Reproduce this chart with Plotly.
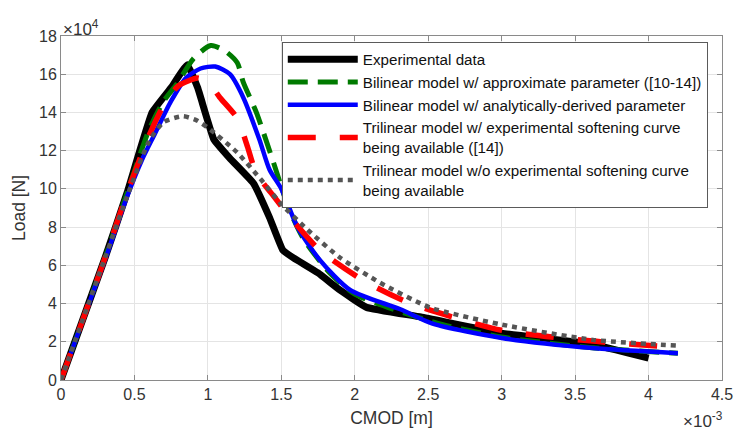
import plotly.graph_objects as go

# CMOD in units of 1e-3 m, Load in units of 1e4 N
exp_x = [0, 0.3, 0.45, 0.62, 0.75, 0.86, 0.93, 1.04, 1.15, 1.31, 1.42, 1.51, 1.58, 1.75, 1.9, 2.08, 2.45, 3.0, 3.6, 4.0]
exp_y = [0, 6.4, 9.8, 14.0, 15.3, 16.5, 15.3, 12.6, 11.6, 10.3, 8.5, 6.8, 6.4, 5.6, 4.7, 3.8, 3.3, 2.45, 1.9, 1.15]

bl_apx_x = [0, 0.3, 0.45, 0.6, 0.7, 0.79, 0.9, 1.02, 1.12, 1.2, 1.24, 1.33, 1.45, 1.55, 1.65, 1.83, 2.0, 2.3, 2.6, 3.0, 3.6, 4.2]
bl_apx_y = [0, 6.4, 9.8, 13.1, 14.6, 15.5, 16.8, 17.5, 17.2, 16.6, 15.6, 14.0, 11.3, 9.0, 7.4, 5.6, 4.5, 3.6, 2.9, 2.25, 1.7, 1.4]

bl_ana_x = [0, 0.3, 0.45, 0.55, 0.64, 0.75, 0.85, 0.95, 1.05, 1.15, 1.24, 1.35, 1.42, 1.5, 1.61, 1.76, 1.97, 2.31, 2.53, 3.0, 3.62, 4.2]
bl_ana_y = [0, 6.3, 9.6, 11.5, 12.9, 14.6, 15.8, 16.3, 16.4, 16.0, 14.8, 12.6, 11.0, 10.0, 8.0, 6.3, 4.7, 3.7, 2.95, 2.2, 1.67, 1.4]

tl_exp_x = [0, 0.3, 0.45, 0.6, 0.7, 0.8, 0.93, 1.0, 1.08, 1.2, 1.27, 1.33, 1.45, 1.54, 1.76, 2.06, 2.38, 3.0, 3.6, 4.2]
tl_exp_y = [0, 6.4, 9.8, 12.8, 14.4, 15.4, 15.8, 15.6, 14.8, 13.7, 12.2, 10.8, 9.6, 8.7, 6.8, 5.2, 4.0, 2.6, 2.05, 1.7]

tl_noexp_x = [0, 0.3, 0.45, 0.6, 0.7, 0.83, 0.92, 1.0, 1.2, 1.36, 1.5, 1.68, 1.9, 2.17, 2.51, 3.0, 3.62, 4.2]
tl_noexp_y = [0, 6.4, 9.6, 12.5, 13.5, 13.8, 13.6, 13.2, 11.9, 10.5, 9.2, 7.85, 6.4, 5.1, 3.8, 2.9, 2.1, 1.8]

names = [
    "Experimental data",
    "Bilinear model w/ approximate parameter ([10-14])",
    "Bilinear model w/ analytically-derived parameter",
    "Trilinear model w/ experimental softening curve<br>being available ([14])",
    "Trilinear model w/o experimental softening curve<br>being available",
]

x_ticks = [0, 0.5, 1, 1.5, 2, 2.5, 3, 3.5, 4, 4.5]
x_labels = ["0", "0.5", "1", "1.5", "2", "2.5", "3", "3.5", "4", "4.5"]
y_ticks = [0, 2, 4, 6, 8, 10, 12, 14, 16, 18]
y_labels = ["0", "2", "4", "6", "8", "10", "12", "14", "16", "18"]

fig = go.Figure()
fig.add_trace(go.Scatter(x=exp_x, y=exp_y, mode="lines", name=names[0],
                         line=dict(color="#000000", width=7, shape="spline", smoothing=0.3)))
fig.add_trace(go.Scatter(x=bl_apx_x, y=bl_apx_y, mode="lines", name=names[1],
                         line=dict(color="#007a00", width=5, dash="20px,10px", shape="spline", smoothing=0.7)))
fig.add_trace(go.Scatter(x=bl_ana_x, y=bl_ana_y, mode="lines", name=names[2],
                         line=dict(color="#0000ff", width=4.5, shape="spline", smoothing=0.7)))
fig.add_trace(go.Scatter(x=tl_exp_x, y=tl_exp_y, mode="lines", name=names[3],
                         line=dict(color="#ff0000", width=5.5, dash="28px,24px", shape="spline", smoothing=0.6)))
fig.add_trace(go.Scatter(x=tl_noexp_x, y=tl_noexp_y, mode="lines", name=names[4],
                         line=dict(color="#555555", width=4.5, dash="5px,5px", shape="spline", smoothing=0.6)))

font_fam = "Liberation Sans, Arial, sans-serif"
axcol = "#8a8a8a"
fig.update_layout(
    width=734, height=431,
    margin=dict(l=61, r=12, t=36, b=51),
    paper_bgcolor="white", plot_bgcolor="white",
    font=dict(family=font_fam, size=16, color="#333333"),
    showlegend=True,
    legend=dict(
        x=0.334, y=0.983, xanchor="left", yanchor="top",
        bgcolor="white", bordercolor="#5a5a5a", borderwidth=1,
        font=dict(size=15.2, color="#111111"),
        tracegroupgap=0, itemwidth=70,
    ),
    xaxis=dict(
        range=[0, 4.5], tickvals=x_ticks, ticktext=x_labels,
        showgrid=True, gridcolor="#e4e4e4", gridwidth=1,
        showline=True, linecolor=axcol, linewidth=1, mirror="ticks",
        ticks="inside", ticklen=5, tickcolor=axcol, automargin=False,
        zeroline=False, tickfont=dict(size=16),
        title=dict(text="CMOD [m]", standoff=9, font=dict(size=17.5)),
    ),
    yaxis=dict(
        range=[0, 18], tickvals=y_ticks, ticktext=y_labels,
        showgrid=True, gridcolor="#e4e4e4", gridwidth=1,
        showline=True, linecolor=axcol, linewidth=1, mirror="ticks",
        ticks="inside", ticklen=5, tickcolor=axcol, automargin=False,
        zeroline=False, tickfont=dict(size=16),
        title=dict(text="Load [N]", standoff=8, font=dict(size=17.5)),
    ),
    annotations=[
        dict(text="×10<sup>4</sup>", xref="paper", yref="paper", x=0.0, y=1.0,
             xanchor="left", yanchor="bottom", showarrow=False, yshift=-5,
             font=dict(size=17, color="#333333")),
        dict(text="×10<sup>-3</sup>", xref="paper", yref="paper", x=1.0, y=-0.075,
             xanchor="right", yanchor="top", showarrow=False, xshift=3, yshift=-1,
             font=dict(size=17, color="#333333")),
    ],
)

fig.write_html("out.html")
